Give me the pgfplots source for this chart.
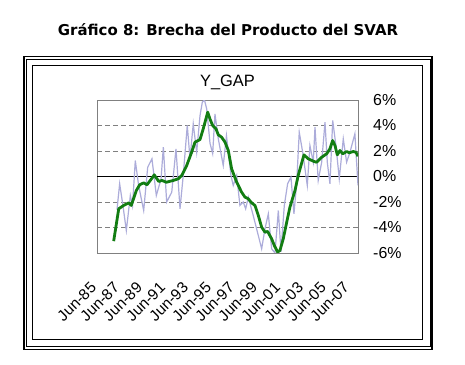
\documentclass[border=0pt]{standalone}
\usepackage{fontspec}
\setmainfont{Liberation Sans}
\newfontfamily\titlefont{DejaVu Sans}
\usepackage{pgfplots}
\pgfplotsset{compat=1.18}
\usepackage{pgfplotstable}
\definecolor{gapgreen}{RGB}{18,125,18}
\definecolor{rawlav}{RGB}{172,172,218}
\definecolor{gridgray}{RGB}{128,128,128}

\pgfplotstableread{
year val
1987.24 -2.6
1987.47 -0.57
1987.76 -2.3
1988.05 -4.24
1988.40 -1.49
1988.59 -2.3
1988.83 1.25
1989.12 -0.7
1989.56 -2.67
1989.91 0.73
1990.28 1.39
1990.66 -1.49
1991.07 -0.2
1991.27 2.3
1991.56 -2.0
1992.00 -1.23
1992.37 2.17
1992.72 -2.53
1993.00 0.08
1993.35 4.0
1993.59 1.39
1993.87 4.13
1994.17 1.9
1994.46 4.78
1994.66 5.83
1994.85 6.0
1995.04 5.3
1995.33 2.6
1995.56 1.8
1995.76 4.9
1996.05 2.95
1996.48 0.86
1996.76 3.2
1997.15 0.08
1997.35 -0.7
1997.65 0.08
1997.93 -2.27
1998.22 -2.0
1998.43 -2.53
1998.66 -1.62
1999.07 -3.0
1999.53 -4.63
1999.82 -5.67
2000.11 -4.1
2000.40 -2.93
2000.69 -5.67
2000.98 -6.0
2001.27 -2.67
2001.50 -5.9
2001.79 -2.27
2002.08 -0.57
2002.37 -0.05
2002.63 -2.93
2002.87 -0.45
2003.09 3.47
2003.39 1.9
2003.59 0.6
2003.79 -0.7
2004.02 2.43
2004.31 1.12
2004.46 3.87
2004.74 -0.31
2005.04 1.12
2005.33 4.26
2005.53 1.12
2005.76 -0.57
2006.00 4.39
2006.28 2.43
2006.57 -0.18
2006.92 2.95
2007.21 1.12
2007.50 1.9
2007.93 3.35
2008.20 -0.7
}\rawgap

\pgfplotstableread{
year val
1986.95 -5.07
1987.39 -2.53
1987.82 -2.27
1988.26 -2.07
1988.48 -2.27
1988.92 -1.1
1989.21 -0.65
1989.56 -0.5
1989.85 -0.65
1990.28 -0.13
1990.48 0.13
1990.87 -0.39
1991.15 -0.31
1991.53 -0.45
1992.13 -0.31
1992.57 -0.18
1992.87 0.08
1993.30 0.86
1993.73 1.9
1994.02 2.69
1994.46 2.9
1994.74 3.74
1995.13 5.05
1995.33 4.5
1995.56 4.0
1995.85 3.74
1996.05 3.27
1996.34 3.08
1996.63 2.7
1996.92 2.04
1997.21 0.6
1997.65 -0.45
1998.08 -1.23
1998.37 -1.62
1998.66 -1.75
1998.95 -2.07
1999.24 -2.27
1999.53 -3.06
1999.82 -3.97
2000.11 -4.37
2000.34 -4.31
2000.69 -4.89
2000.92 -5.41
2001.21 -5.93
2001.41 -5.8
2001.70 -4.89
2002.00 -3.58
2002.28 -2.4
2002.72 -1.1
2003.00 0.08
2003.50 1.7
2003.87 1.39
2004.37 1.18
2004.60 1.12
2005.04 1.51
2005.47 1.78
2005.76 2.17
2006.00 2.82
2006.20 2.43
2006.40 1.7
2006.63 2.04
2006.87 1.78
2007.21 1.96
2007.44 1.86
2007.79 1.96
2008.02 1.9
2008.20 1.59
}\smoothgap

\begin{document}
\begin{tikzpicture}
\useasboundingbox (0,0) rectangle (465bp,365bp);
\fill[white] (0,0) rectangle (465bp,365bp);
\draw[line width=1.2bp] (24bp,15.7bp) rectangle (432bp,308.3bp);
\draw[line width=0.6bp] (26.5bp,18.3bp) rectangle (430bp,305.7bp);
\draw[line width=0.8bp] (32.5bp,26bp) rectangle (422.7bp,300bp);
\node[font=\titlefont\bfseries\fontsize{15}{17}\selectfont] at (228bp,335bp) {Gráfico 8: Brecha del Producto del SVAR};
\begin{axis}[
  at={(97bp,112bp)}, anchor=south west,
  width=261bp, height=153bp, scale only axis,
  xmin=1985.5, xmax=2008.2, ymin=-6, ymax=6,
  axis line style={draw=gridgray, line width=0.8bp},
  major tick length=0pt,
  ytick={-6,-4,-2,0,2,4,6},
  yticklabels={-6\%,-4\%,-2\%,0\%,2\%,4\%,6\%},
  yticklabel pos=right,
  yticklabel style={anchor=west, inner sep=0pt, xshift=15bp, font=\fontsize{16}{16}\selectfont},
  ymajorgrids,
  grid style={gridgray, line width=0.7bp, dash pattern=on 5bp off 3bp},
  xtick={1985.5,1987.5,1989.5,1991.5,1993.5,1995.5,1997.5,1999.5,2001.5,2003.5,2005.5,2007.5},
  xticklabels={Jun-85,Jun-87,Jun-89,Jun-91,Jun-93,Jun-95,Jun-97,Jun-99,Jun-01,Jun-03,Jun-05,Jun-07},
  xticklabel style={xshift=-3.5bp, yshift=-32bp, rotate=45, anchor=east, inner sep=0pt, font=\fontsize{15.5}{15.5}\selectfont},
  title={Y\_GAP},
  title style={at={(0.5,1)}, anchor=base, yshift=8bp, font=\fontsize{16.5}{16.5}\selectfont},
  clip=true,
]
\draw[black, line width=0.8bp] (axis cs:1985.5,0) -- (axis cs:2008.2,0);
\addplot[rawlav, line width=1.2bp] table[x=year, y=val] {\rawgap};
\addplot[gapgreen, line width=2.8bp, line join=round] table[x=year, y=val] {\smoothgap};
\end{axis}
\end{tikzpicture}
\end{document}
